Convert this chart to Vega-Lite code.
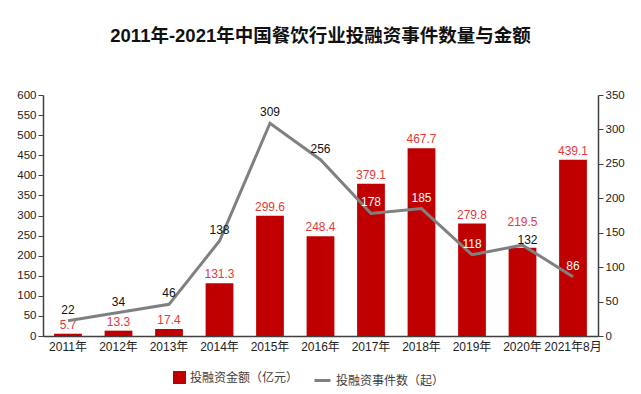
{
  "$schema": "https://vega.github.io/schema/vega-lite/v6.json",
  "autosize": "none",
  "width": 555,
  "height": 241,
  "padding": {"left": 43, "top": 95, "right": 43, "bottom": 58},
  "background": "white",
  "title": {
    "text": "2011年-2021年中国餐饮行业投融资事件数量与金额",
    "font": "Liberation Sans, Noto Sans CJK SC",
    "fontSize": 18.5,
    "fontWeight": "bold",
    "color": "#111111",
    "anchor": "middle",
    "offset": 44
  },
  "config": {
    "view": {"stroke": null},
    "font": "Liberation Sans",
    "axis": {"grid": false, "labelFont": "Liberation Sans", "labelFontSize": 12, "labelColor": "#222222", "domainColor": "#404040", "tickColor": "#404040", "domainWidth": 1.5}
  },
  "data": {
    "values": [
      {"year": "2011年", "amount": 5.7, "count": 22},
      {"year": "2012年", "amount": 13.3, "count": 34},
      {"year": "2013年", "amount": 17.4, "count": 46},
      {"year": "2014年", "amount": 131.3, "count": 138},
      {"year": "2015年", "amount": 299.6, "count": 309},
      {"year": "2016年", "amount": 248.4, "count": 256},
      {"year": "2017年", "amount": 379.1, "count": 178},
      {"year": "2018年", "amount": 467.7, "count": 185},
      {"year": "2019年", "amount": 279.8, "count": 118},
      {"year": "2020年", "amount": 219.5, "count": 132},
      {"year": "2021年8月", "amount": 439.1, "count": 86}
    ]
  },
  "encoding": {
    "x": {
      "field": "year", "type": "ordinal", "sort": null,
      "scale": {"paddingInner": 0.45, "paddingOuter": 0.22},
      "axis": {"title": null, "labelAngle": 0, "ticks": false, "labelPadding": 5, "labelFont": "Liberation Sans, Noto Sans CJK SC", "labelFontSize": 12}
    }
  },
  "layer": [
    {
      "encoding": {
        "y": {"field": "amount", "type": "quantitative", "scale": {"domain": [0, 600]}, "axis": {"title": null, "values": [0,50,100,150,200,250,300,350,400,450,500,550,600], "tickSize": 5, "labelOverlap": false, "labelFontSize": 11.5}}
      },
      "layer": [
        {
          "transform": [{"calculate": "'投融资金额（亿元）'", "as": "s1"}],
          "mark": {"type": "bar", "color": "#c00000"},
          "encoding": {
            "fill": {"field": "s1", "type": "nominal", "scale": {"range": ["#c00000"]},
              "legend": {"title": null, "orient": "none", "legendX": 130, "legendY": 276, "symbolType": "square", "symbolSize": 169, "symbolStrokeWidth": 0, "labelFont": "Noto Sans CJK SC", "labelFontSize": 12, "labelColor": "#404040"}}
          }
        },
        {
          "transform": [{"filter": "datum.year != '2020年'"}],
          "mark": {"type": "text", "dy": -9, "color": "#e23a3a", "fontSize": 12, "font": "Liberation Sans"},
          "encoding": {
            "text": {"field": "amount", "type": "quantitative", "format": ".1f"}
          }
        },
        {
          "transform": [{"filter": "datum.year == '2020年'"}],
          "mark": {"type": "text", "dy": -26, "color": "#e23a3a", "fontSize": 12, "font": "Liberation Sans"},
          "encoding": {
            "text": {"field": "amount", "type": "quantitative", "format": ".1f"}
          }
        }
      ]
    },
    {
      "encoding": {
        "y": {"field": "count", "type": "quantitative", "scale": {"domain": [0, 350]}, "axis": {"title": null, "orient": "right", "values": [0,50,100,150,200,250,300,350], "tickSize": 5, "labelOverlap": false, "labelFontSize": 11.5}}
      },
      "layer": [
        {
          "transform": [{"calculate": "'投融资事件数（起）'", "as": "s2"}],
          "mark": {"type": "line", "strokeWidth": 3},
          "encoding": {
            "stroke": {"field": "s2", "type": "nominal", "scale": {"range": ["#808080"]},
              "legend": {"title": null, "orient": "none", "legendX": 270, "legendY": 276, "symbolType": "stroke", "symbolSize": 256, "symbolStrokeWidth": 3, "labelFont": "Noto Sans CJK SC", "labelFontSize": 12, "labelColor": "#404040"}}
          }
        },
        {
          "transform": [{"filter": "datum.year != '2020年'"}],
          "mark": {"type": "text", "dy": -11, "fontSize": 12, "font": "Liberation Sans"},
          "encoding": {
            "text": {"field": "count", "type": "quantitative"},
            "color": {"condition": {"test": "indexof(['2017年','2018年','2019年','2021年8月'], datum.year) >= 0", "value": "#ffffff"}, "value": "#111111"}
          }
        },
        {
          "transform": [{"filter": "datum.year == '2020年'"}],
          "mark": {"type": "text", "dy": -5, "dx": 5, "fontSize": 12, "font": "Liberation Sans", "color": "#111111"},
          "encoding": {
            "text": {"field": "count", "type": "quantitative"}
          }
        }
      ]
    }
  ],
  "resolve": {"scale": {"y": "independent"}}
}
